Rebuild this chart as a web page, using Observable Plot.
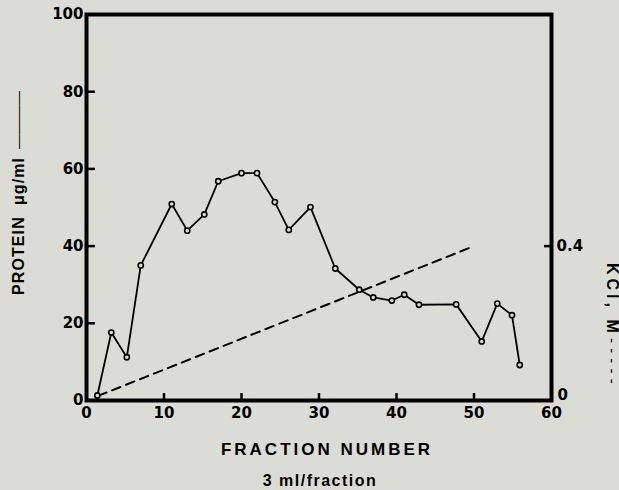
<!DOCTYPE html>
<html><head><meta charset="utf-8">
<script src="https://cdn.jsdelivr.net/npm/d3@7"></script>
<script src="https://cdn.jsdelivr.net/npm/@observablehq/plot@0.6"></script>
<style>
html,body{margin:0;padding:0;background:#dcdcd7;}
#chart svg{display:block;}
</style>
</head><body><div id="chart"></div>
<script>
// Protein elution profile (solid line with open circles)
const fractions = [1.4, 3.2, 5.2, 7, 11, 13, 15.2, 17, 20, 22, 24.3, 26.1, 28.9, 32.1, 35.2, 37, 39.4, 41, 42.9, 47.7, 51, 53, 54.9, 55.9];
const protein   = [1.3, 17.6, 11.2, 35, 50.9, 44, 48.2, 56.8, 58.9, 58.9, 51.4, 44.2, 50.1, 34.2, 28.7, 26.7, 25.9, 27.4, 24.8, 24.9, 15.3, 25.1, 22.1, 9.2];
// KCl gradient (dashed line), right axis
const kclFractions = [1.5, 50];
const kclMolar     = [0.012, 0.40];
// Tick labels
const xTicks = [0, 10, 20, 30, 40, 50, 60];
const yTicks = [0, 20, 40, 60, 80, 100];
const kclTicks = [0, 0.4];
const kclScale = 100; // 0.4 M on the right axis sits at 40 on the left axis

const bg = "#dcdcd7";
const proteinData = fractions.map((f, i) => ({fraction: f, protein: protein[i]}));
const kclData = kclFractions.map((f, i) => ({fraction: f, y: kclMolar[i] * kclScale}));
const font = "'Liberation Sans', Arial, sans-serif";
const tickFont = "'DejaVu Sans', sans-serif";
const kclFormat = d => d === 0 ? "0" : String(+(d / kclScale).toFixed(1));

const chart = Plot.plot({
  width: 619,
  height: 490,
  marginLeft: 86,
  marginRight: 68,
  marginTop: 14,
  marginBottom: 90,
  style: {background: bg, fontFamily: font, fontSize: "15px", color: "black"},
  x: {domain: [0, 60], axis: null},
  y: {domain: [0, 100], axis: null},
  marks: [
    // inward ticks
    Plot.ruleY(yTicks.filter(t => t > 0 && t < 100), {y: d => d, x1: 0, x2: 1.15, stroke: "black", strokeWidth: 2.5}),
    Plot.ruleX(xTicks.filter(t => t > 0 && t < 60), {x: d => d, y1: 0, y2: 1.8, stroke: "black", strokeWidth: 2.5}),
    Plot.ruleY(kclTicks.filter(t => t > 0).map(k => k * kclScale), {y: d => d, x1: 59.1, x2: 60, stroke: "black", strokeWidth: 2.5}),
    // tick labels
    Plot.axisY(yTicks, {anchor: "left", label: null, tickSize: 0, tickPadding: 3, fontFamily: tickFont, fontSize: 15, fontWeight: "bold", letterSpacing: "1.5px"}),
    Plot.axisX(xTicks, {anchor: "bottom", label: null, tickSize: 0, tickPadding: 7, fontFamily: tickFont, fontSize: 15, fontWeight: "bold", letterSpacing: "1.5px"}),
    Plot.axisY(kclTicks.filter(k => k > 0).map(k => k * kclScale), {anchor: "right", label: null, tickSize: 0, tickPadding: 5, fontFamily: tickFont, fontSize: 15, fontWeight: "bold", letterSpacing: "0.5px", tickFormat: kclFormat}),
    Plot.axisY(kclTicks.filter(k => k === 0).map(k => k * kclScale), {anchor: "right", label: null, tickSize: 0, tickPadding: 6, dy: -5, fontFamily: tickFont, fontSize: 15, fontWeight: "bold", tickFormat: kclFormat}),
    // data
    Plot.line(kclData, {x: "fraction", y: "y", stroke: "black", strokeWidth: 2, strokeDasharray: "9,6"}),
    Plot.line(proteinData, {x: "fraction", y: "protein", stroke: "black", strokeWidth: 1.8}),
    Plot.dot(proteinData, {x: "fraction", y: "protein", r: 2.6, stroke: "black", fill: bg, strokeWidth: 1.6}),
    Plot.frame({stroke: "black", strokeWidth: 4})
  ]
});
document.getElementById("chart").appendChild(chart);

// Axis titles
const svg = d3.select(chart);
function label(x, y, rot, txt, size, weight, ls, anchor) {
  svg.append("text")
    .attr("transform", `translate(${x},${y}) rotate(${rot})`)
    .attr("text-anchor", anchor || "middle")
    .attr("dominant-baseline", "central")
    .style("font-family", font)
    .style("font-size", size + "px")
    .style("font-weight", weight)
    .style("letter-spacing", ls + "px")
    .attr("fill", "black")
    .text(txt);
}
label(18, 295, -90, "PROTEIN  μg/ml", 16, "bold", 1.1, "start");
label(18, 149, -90, "————", 14.5, "normal", 0, "start");
label(612, 263, 90, "KCl, M", 16, "bold", 4, "start");
label(612, 338, 90, "- - - - -", 15, "normal", 0.5, "start");
svg.append("text").attr("x", 327).attr("y", 455).attr("text-anchor", "middle")
  .style("font-family", font).style("font-size", "17px").style("font-weight", "bold").style("letter-spacing", "3px")
  .text("FRACTION NUMBER");
svg.append("text").attr("x", 320).attr("y", 486).attr("text-anchor", "middle")
  .style("font-family", font).style("font-size", "16px").style("font-weight", "bold").style("letter-spacing", "1.5px")
  .text("3 ml/fraction");
</script>
</body></html>
